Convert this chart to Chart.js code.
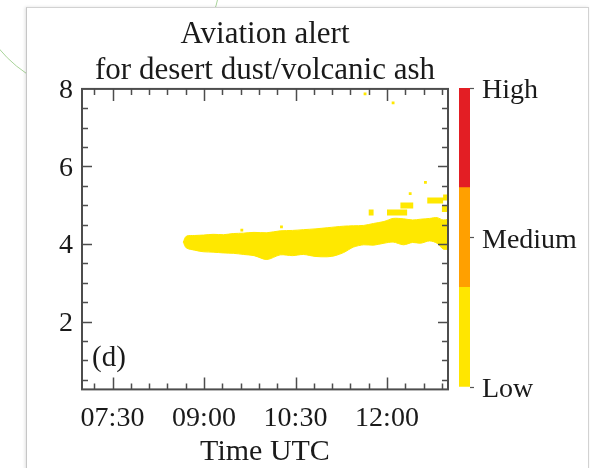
<!DOCTYPE html>
<html>
<head>
<meta charset="utf-8">
<script src="https://cdn.jsdelivr.net/npm/chart.js@4.4.1/dist/chart.umd.min.js"></script>
<style>
  html, body { margin: 0; padding: 0; background: #fff; }
  #page { position: relative; width: 590px; height: 468px; overflow: hidden; background: #fff; }
  #ring { position: absolute; left: -30px; top: -157px; width: 250px; height: 250px; border-radius: 50%; border: 1px solid #a9d49a; }
  #card { position: absolute; left: 26px; top: 7px; width: 561px; height: 470px; background: #fff;
          border-left: 1px solid #c6c6c6; border-top: 1px solid #d2d2d2; border-right: 1px solid #d2d2d2;
          box-shadow: -1px 0 3px rgba(0,0,0,0.12); }
  #main { position: absolute; left: 0; top: 0; }
  #bar { position: absolute; left: 440px; top: 0; }
</style>
</head>
<body>
<div id="page">
  <div id="ring"></div>
  <div id="card"></div>
  <canvas id="main" width="530" height="468"></canvas>
  <canvas id="bar" width="150" height="468"></canvas>
</div>
<script>
// main dust/ash layer, outline (time in decimal hours UTC, height in km)
const layerTimes = [8.66, 8.71, 8.85, 8.99, 9.15, 9.32, 9.48, 9.65, 9.82, 10.03, 10.25, 10.45, 10.63, 10.82, 11.02,
                    11.15, 11.29, 11.45, 11.62, 11.78, 11.95, 12.10, 12.27, 12.42, 12.55, 12.70, 12.82, 12.92, 13.0];
const layerTop   = [4.05, 4.20, 4.22, 4.23, 4.25, 4.24, 4.27, 4.28, 4.30, 4.29, 4.34, 4.35, 4.37, 4.39, 4.42,
                    4.44, 4.46, 4.47, 4.48, 4.53, 4.58, 4.66, 4.65, 4.62, 4.64, 4.66, 4.68, 4.62, 4.64];
const layerBase  = [4.05, 3.90, 3.84, 3.80, 3.79, 3.77, 3.76, 3.73, 3.70, 3.60, 3.72, 3.70, 3.73, 3.68, 3.67,
                    3.70, 3.78, 3.92, 3.98, 3.97, 4.02, 4.05, 3.98, 4.04, 4.02, 4.08, 4.02, 3.87, 3.86];

// broken patches above the main layer
const patchStart  = [11.70, 12.00, 12.22, 12.66, 12.92, 12.90];
const patchEnd    = [11.78, 12.33, 12.43, 12.92, 13.00, 13.00];
const patchHeight = [4.81, 4.81, 4.99, 5.12, 5.20, 4.90];

// clear holes inside the main layer
const holeTimes   = [9.68, 9.87, 11.40, 11.73, 11.92, 12.10, 12.30, 12.55];
const holeHeights = [4.12, 3.99, 4.27, 4.23, 4.12, 4.31, 4.38, 4.53];

// isolated specks
const speckTimes   = [9.62, 10.27, 12.38, 12.63, 12.10, 11.64];
const speckHeights = [4.36, 4.44, 5.30, 5.59, 7.64, 7.87];

const titleLines = ['Aviation alert', 'for desert dust/volcanic ash'];
const xMajorTicks = [7.5, 9, 10.5, 12];
const xMinorStep = 0.3;
const yMajorTicks = [2, 4, 6, 8];
const yMinorStep = 0.5;

const alertLevels = ['Low', 'Medium', 'High'];
const alertColors = ['#ffe600', '#ffa000', '#e31e24'];
const alertTickValues = [0, 1.5, 3];

const ink = '#1a1a1a';
const dust = '#ffe800';
Chart.defaults.font.family = "'Liberation Serif', 'Times New Roman', serif";
Chart.defaults.color = ink;

function hhmm(v) {
    const h = Math.floor(v + 1e-9);
    const m = Math.round((v - h) * 60);
    return String(h).padStart(2, '0') + ':' + String(m).padStart(2, '0');
}

const patchData = [];
patchStart.forEach((s, i) => {
    patchData.push({ x: s, y: patchHeight[i] }, { x: patchEnd[i], y: patchHeight[i] }, { x: patchEnd[i], y: null });
});
const holeData = [];
holeTimes.forEach((t, i) => {
    holeData.push({ x: t - 0.03, y: holeHeights[i] }, { x: t + 0.03, y: holeHeights[i] }, { x: t + 0.03, y: null });
});

// frame with inward ticks on all four sides + panel label
const framePlugin = {
    id: 'frame',
    afterDatasetsDraw(chart) {
        const { ctx, chartArea: a, scales: { x, y } } = chart;
        const near = (list, v) => list.some(m => Math.abs(m - v) < 1e-6);
        ctx.save();
        ctx.strokeStyle = '#4d4d4d';
        ctx.lineWidth = 1.5;
        ctx.beginPath();
        for (let v = xMajorTicks[0] - xMinorStep; v < x.max; v += xMinorStep) {
            const px = Math.round(x.getPixelForValue(v)) + 0.5;
            const len = near(xMajorTicks, v) ? 12 : 6;
            ctx.moveTo(px, a.bottom); ctx.lineTo(px, a.bottom - len);
            ctx.moveTo(px, a.top); ctx.lineTo(px, a.top + len);
        }
        for (let v = yMinorStep; v < y.max; v += yMinorStep) {
            const py = Math.round(y.getPixelForValue(v)) + 0.5;
            const len = near(yMajorTicks, v) ? 10 : 6;
            ctx.moveTo(a.left, py); ctx.lineTo(a.left + len, py);
            ctx.moveTo(a.right, py); ctx.lineTo(a.right - len, py);
        }
        ctx.stroke();
        ctx.lineWidth = 2;
        ctx.strokeRect(a.left, a.top, a.right - a.left, a.bottom - a.top);
        ctx.fillStyle = ink;
        ctx.font = "29px 'Liberation Serif', serif";
        ctx.textAlign = 'center';
        ctx.textBaseline = 'middle';
        ctx.fillText('(d)', a.left + 27, a.bottom - 31);
        ctx.restore();
    }
};

new Chart(document.getElementById('main').getContext('2d'), {
    type: 'line',
    data: {
        datasets: [{
            label: 'layer top',
            data: layerTimes.map((t, i) => ({ x: t, y: layerTop[i] })),
            borderColor: dust,
            borderWidth: 1,
            backgroundColor: dust,
            pointRadius: 0,
            tension: 0.3,
            fill: '+1'
        }, {
            label: 'layer base',
            data: layerTimes.map((t, i) => ({ x: t, y: layerBase[i] })),
            borderColor: dust,
            borderWidth: 1,
            pointRadius: 0,
            tension: 0.3,
            fill: false
        }, {
            label: 'patches',
            data: patchData,
            borderColor: dust,
            borderWidth: 6,
            pointRadius: 0,
            spanGaps: false,
            fill: false
        }, {
            label: 'holes',
            data: holeData,
            borderColor: '#ffffff',
            borderWidth: 2,
            pointRadius: 0,
            spanGaps: false,
            fill: false
        }, {
            label: 'specks',
            type: 'scatter',
            data: speckTimes.map((t, i) => ({ x: t, y: speckHeights[i] })),
            backgroundColor: dust,
            borderWidth: 0,
            pointStyle: 'rect',
            pointRadius: 2
        }]
    },
    options: {
        responsive: false,
        animation: false,
        layout: { padding: { top: 0, bottom: 1, left: 0, right: 0 } },
        plugins: {
            legend: { display: false },
            tooltip: { enabled: false },
            title: {
                display: true,
                text: titleLines,
                color: ink,
                font: { size: 31, weight: 'normal', lineHeight: 1.16 },
                padding: { top: 17, bottom: 0 }
            }
        },
        scales: {
            x: {
                type: 'linear',
                min: 7,
                max: 13,
                grid: { display: false, drawTicks: false },
                border: { display: false },
                afterBuildTicks: s => { s.ticks = xMajorTicks.map(v => ({ value: v })); },
                ticks: { font: { size: 28 }, color: ink, padding: 12, maxRotation: 0, autoSkip: false, callback: v => hhmm(v) },
                title: { display: true, text: 'Time UTC', color: ink, font: { size: 30, lineHeight: 1.0 }, padding: { top: -10, bottom: 0 } }
            },
            y: {
                min: 0.25,
                max: 8,
                grid: { display: false, drawTicks: false },
                border: { display: false },
                afterBuildTicks: s => { s.ticks = yMajorTicks.map(v => ({ value: v })); },
                afterFit: s => { s.width = 82; },
                ticks: { font: { size: 28 }, color: ink, padding: 9, labelOffset: 2 }
            },
            yR: {
                position: 'right',
                display: true,
                grid: { display: false, drawTicks: false },
                border: { display: false },
                ticks: { display: false },
                afterFit: s => { s.width = 82; }
            }
        }
    },
    plugins: [framePlugin]
});

// colour bar for alert level
new Chart(document.getElementById('bar').getContext('2d'), {
    type: 'bar',
    data: {
        labels: [''],
        datasets: alertLevels.map((name, i) => ({
            label: name,
            data: [1],
            backgroundColor: alertColors[i],
            barPercentage: 1,
            categoryPercentage: 1
        }))
    },
    options: {
        responsive: false,
        animation: false,
        layout: { padding: { top: 88, bottom: 81, left: 19, right: 0 } },
        plugins: { legend: { display: false }, tooltip: { enabled: false } },
        scales: {
            x: { display: false, stacked: true },
            y: {
                stacked: true,
                position: 'right',
                min: 0,
                max: 3,
                afterBuildTicks: s => { s.ticks = alertTickValues.map(v => ({ value: v })); },
                afterFit: s => { s.width = 120; },
                grid: { drawOnChartArea: false, drawTicks: true, tickLength: 4, tickColor: '#555', tickWidth: 1.2 },
                border: { display: false },
                ticks: {
                    padding: 8,
                    font: { size: 28 },
                    color: ink,
                    labelOffset: 3,
                    callback: v => alertLevels[alertTickValues.indexOf(v)]
                }
            }
        }
    }
});
</script>
</body>
</html>
